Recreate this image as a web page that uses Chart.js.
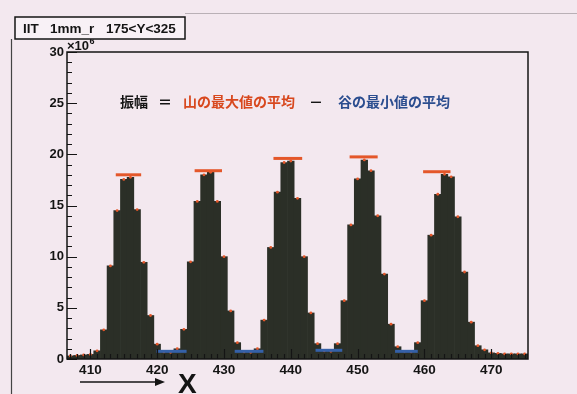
<!DOCTYPE html>
<html>
<head>
<meta charset="utf-8">
<script src="https://cdn.jsdelivr.net/npm/chart.js@4.4.1/dist/chart.umd.min.js"></script>
<style>
  html, body { margin: 0; padding: 0; background: #f3e8ef; }
  #wrap { position: relative; width: 577px; height: 394px; }
</style>
</head>
<body>
<div id="wrap"><canvas id="histChart"></canvas></div>
<script>
// 1 mm bins along X, counts in units of 10^6
const binX = [407, 408, 409, 410, 411, 412, 413, 414, 415, 416, 417, 418, 419, 420,
              421, 422, 423, 424, 425, 426, 427, 428, 429, 430, 431, 432, 433, 434,
              435, 436, 437, 438, 439, 440, 441, 442, 443, 444, 445, 446, 447, 448,
              449, 450, 451, 452, 453, 454, 455, 456, 457, 458, 459, 460, 461, 462,
              463, 464, 465, 466, 467, 468, 469, 470, 471, 472, 473, 474, 475];
const counts = [0.3, 0.35, 0.4, 0.45, 0.8, 2.85, 9.1, 14.5, 17.55, 17.75, 14.6, 9.45, 4.25, 1.45,
                0.7, 0.65, 1.0, 2.9, 9.5, 15.4, 18.0, 18.25, 15.4, 10.0, 4.7, 1.6, 0.7, 0.65,
                1.0, 3.8, 10.9, 16.3, 19.2, 19.35, 15.7, 10.0, 4.5, 1.5, 0.8, 0.75, 1.5, 5.7,
                13.1, 17.6, 19.45, 18.4, 14.0, 8.3, 3.4, 1.2, 0.75, 0.7, 1.6, 5.7, 12.1, 16.1,
                18.05, 17.8, 13.9, 8.5, 3.6, 1.3, 0.9, 0.6, 0.55, 0.5, 0.5, 0.5, 0.5];

// peak maxima (orange) and valley minima (blue), with their X extent
const peakMax = [18.0, 18.4, 19.6, 19.75, 18.3];
const peakFrom = [413.8, 425.6, 437.4, 448.8, 459.8];
const peakTo = [417.6, 429.7, 441.7, 453.0, 463.9];
const valleyMin = [0.75, 0.75, 0.85, 0.75];
const valleyFrom = [419.9, 431.6, 443.7, 455.6];
const valleyTo = [424.4, 435.9, 447.7, 459.0];

const xTicks = [410, 420, 430, 440, 450, 460, 470];
const yTicks = [0, 5, 10, 15, 20, 25, 30];

const BAR = '#2b2f27';
const ORANGE = '#e4572a';
const BLUE = '#3561a8';
const INK = '#141414';
const SANS = "'Liberation Sans', Arial, sans-serif";
const CJK = "'Noto Sans CJK JP', sans-serif";

Chart.defaults.font.family = SANS;

function levelSegments(from, to, level, color) {
    return level.map((v, i) => ({
        type: 'line',
        data: [{ x: from[i], y: v }, { x: to[i], y: v }],
        borderColor: color,
        borderWidth: 3,
        borderCapStyle: 'butt',
        pointRadius: 0,
        order: 0
    }));
}

// ROOT-like frame, inward ticks and the pad decorations
const padDecor = {
    id: 'padDecor',
    afterDraw(chart) {
        const { ctx, chartArea: a, scales: { x, y } } = chart;
        ctx.save();

        // frame
        ctx.strokeStyle = INK;
        ctx.lineWidth = 1.5;
        ctx.strokeRect(a.left, a.top, a.right - a.left, a.bottom - a.top);

        // ticks pointing into the frame
        ctx.lineWidth = 1.2;
        ctx.beginPath();
        for (let v = y.min; v <= y.max; v += 1) {
            const py = Math.round(y.getPixelForValue(v)) + 0.5;
            const len = v % 5 === 0 ? 10 : 5;
            ctx.moveTo(a.left, py);
            ctx.lineTo(a.left + len, py);
        }
        for (let v = Math.ceil(x.min); v <= x.max; v += 1) {
            const px = Math.round(x.getPixelForValue(v)) + 0.5;
            const len = v % 10 === 0 ? 10 : 5;
            ctx.moveTo(px, a.bottom);
            ctx.lineTo(px, a.bottom - len);
        }
        ctx.stroke();

        // exponent above the y axis
        ctx.fillStyle = INK;
        ctx.textBaseline = 'alphabetic';
        ctx.font = 'bold 13px ' + SANS;
        ctx.fillText('×10', a.left, a.top - 2);
        const w = ctx.measureText('×10').width;
        ctx.font = 'bold 9px ' + SANS;
        ctx.fillText('6', a.left + w + 0.5, a.top - 8);

        // title box
        ctx.fillStyle = '#f8f1f6';
        ctx.fillRect(15, 17, 170, 22);
        ctx.strokeStyle = INK;
        ctx.lineWidth = 1.5;
        ctx.strokeRect(15, 17, 170, 22);
        ctx.fillStyle = INK;
        ctx.font = 'bold 13.5px ' + SANS;
        ctx.fillText('IIT', 23, 33);
        ctx.fillText('1mm_r', 50, 33);
        ctx.fillText('175<Y<325', 106, 33);

        // amplitude definition
        ctx.textBaseline = 'middle';
        ctx.font = 'bold 14px ' + CJK;
        const parts = [
            [120, '振幅', INK],
            [158, '＝', INK],
            [183, '山の最大値の平均', '#d8481e'],
            [309, '－', INK],
            [338, '谷の最小値の平均', '#2b4d8f']
        ];
        parts.forEach(([px, txt, col]) => {
            ctx.fillStyle = col;
            ctx.fillText(txt, px, 102);
        });

        // axis arrow and label
        ctx.strokeStyle = INK;
        ctx.lineWidth = 1.6;
        ctx.beginPath();
        ctx.moveTo(80, 382);
        ctx.lineTo(157, 382);
        ctx.stroke();
        ctx.fillStyle = INK;
        ctx.beginPath();
        ctx.moveTo(165, 382);
        ctx.lineTo(155, 378);
        ctx.lineTo(155, 386);
        ctx.closePath();
        ctx.fill();
        ctx.textBaseline = 'alphabetic';
        ctx.font = 'bold 28px ' + SANS;
        ctx.fillText('X', 178, 393);

        // pad edges
        ctx.strokeStyle = '#444';
        ctx.lineWidth = 1.2;
        ctx.beginPath();
        ctx.moveTo(11.5, 39);
        ctx.lineTo(11.5, 394);
        ctx.stroke();
        ctx.strokeStyle = '#b9b0b6';
        ctx.lineWidth = 1;
        ctx.beginPath();
        ctx.moveTo(185, 13.5);
        ctx.lineTo(577, 13.5);
        ctx.stroke();

        ctx.restore();
    }
};

const ctx = document.getElementById('histChart');

new Chart(ctx, {
    type: 'bar',
    data: {
        datasets: [
            {
                type: 'bar',
                data: binX.map((v, i) => ({ x: v, y: counts[i] })),
                backgroundColor: BAR,
                borderWidth: 0,
                barPercentage: 1,
                categoryPercentage: 1,
                order: 2
            },
            {
                type: 'line',
                data: binX.map((v, i) => ({ x: v, y: counts[i] })),
                showLine: false,
                pointRadius: 1.4,
                pointBorderWidth: 0,
                pointBackgroundColor: ORANGE,
                order: 1
            },
            ...levelSegments(peakFrom, peakTo, peakMax, ORANGE),
            ...levelSegments(valleyFrom, valleyTo, valleyMin, BLUE)
        ]
    },
    options: {
        responsive: true,
        maintainAspectRatio: false,
        animation: false,
        events: [],
        layout: { padding: { top: 52, right: 49, left: 0, bottom: 0 } },
        plugins: {
            legend: { display: false },
            tooltip: { enabled: false }
        },
        scales: {
            x: {
                type: 'linear',
                offset: false,
                min: 406.5,
                max: 475.5,
                afterBuildTicks: scale => { scale.ticks = xTicks.map(v => ({ value: v })); },
                afterFit: scale => { scale.height = 35; },
                ticks: {
                    color: INK,
                    padding: 3,
                    maxRotation: 0,
                    font: { size: 13.5, weight: 'bold' }
                },
                grid: { display: false, drawTicks: false, offset: false },
                border: { display: false }
            },
            y: {
                min: 0,
                max: 30,
                afterBuildTicks: scale => { scale.ticks = yTicks.map(v => ({ value: v })); },
                afterFit: scale => { scale.width = 67; },
                ticks: {
                    color: INK,
                    padding: 3,
                    font: { size: 13, weight: 'bold' }
                },
                grid: { display: false, drawTicks: false },
                border: { display: false }
            }
        }
    },
    plugins: [padDecor]
});
</script>
</body>
</html>
